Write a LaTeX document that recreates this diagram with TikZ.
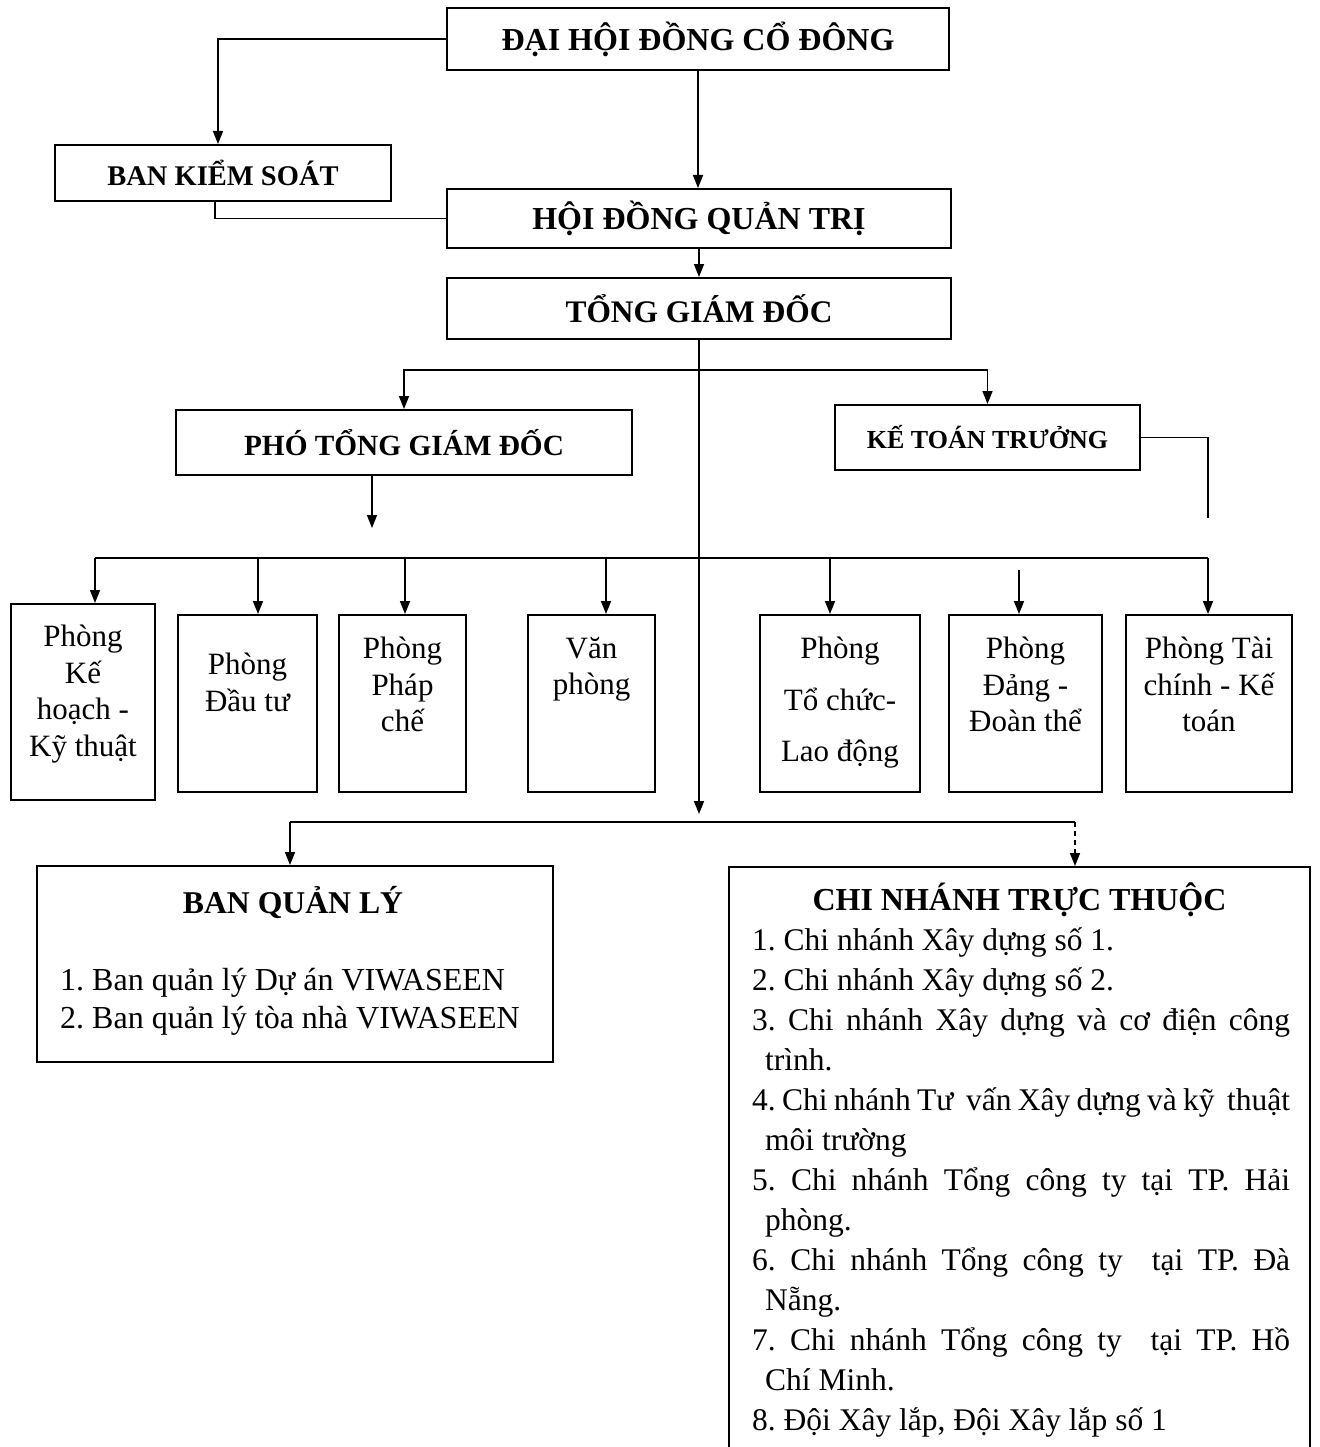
\documentclass[tikz,border=0pt]{standalone}
\usepackage{fontspec}
\setmainfont{Liberation Serif}
\usetikzlibrary{arrows.meta}
\newcommand\cnjust[1]{\makebox[538pt][s]{#1}}
\newcommand\cnind{\hspace*{13pt}}
\frenchspacing
\begin{document}
\begin{tikzpicture}[x=1pt,y=-1pt,
  box/.style={draw, line width=2pt, inner sep=0pt},
  ttl/.style={font=\bfseries\fontsize{32}{38}\selectfont},
  dept/.style={font=\fontsize{31}{36.5}\selectfont, align=center, inner sep=0pt, anchor=north},
  ln/.style={line width=1.6pt},
  arr/.style={line width=1.6pt, -{Triangle[length=13pt,width=10pt]}},
  darr/.style={arr, dash pattern=on 5pt off 4pt}]
\useasboundingbox (0,0) rectangle (1319,1447);
% top boxes
\node[box, minimum width=502pt, minimum height=62pt, ttl] (dhd) at (698,39) {ĐẠI HỘI ĐỒNG CỔ ĐÔNG};
\node[box, minimum width=336pt, minimum height=56pt, font=\bfseries\fontsize{28.5}{34}\selectfont] (bks) at (223,173) {BAN KIỂM SOÁT};
\node[box, minimum width=504pt, minimum height=59pt, ttl] (hdqt) at (699,218.5) {HỘI ĐỒNG QUẢN TRỊ};
\node[box, minimum width=504pt, minimum height=61pt, font=\bfseries\fontsize{31.4}{37}\selectfont] (tgd) at (699,308.5) {TỔNG GIÁM ĐỐC};
\node[box, minimum width=456pt, minimum height=65pt, font=\bfseries\fontsize{29.3}{35}\selectfont] (ptgd) at (404,442.5) {PHÓ TỔNG GIÁM ĐỐC};
\node[box, minimum width=305pt, minimum height=65pt, font=\bfseries\fontsize{26}{31}\selectfont] (ktt) at (987.5,437.5) {KẾ TOÁN TRƯỞNG};
% departments
\node[box, minimum width=144pt, minimum height=196pt] (pkh) at (83,702) {};
\node[dept] (pkht) at (83,625) {Phòng\\Kế\\hoạch -\\Kỹ thuật};
\node[box, minimum width=139pt, minimum height=177pt] (pdt) at (247.5,703.5) {};
\node[dept] (pdtt) at (247.5,653) {Phòng\\Đầu tư};
\node[box, minimum width=127pt, minimum height=177pt] (ppc) at (402.5,703.5) {};
\node[dept] (ppct) at (402.5,637) {Phòng\\Pháp\\chế};
\node[box, minimum width=127pt, minimum height=177pt] (vp) at (591.5,703.5) {};
\node[dept] (vpt) at (591.5,637) {Văn\\phòng};
\node[box, minimum width=160pt, minimum height=177pt] (ptc) at (840,703.5) {};
\node[dept] (ptct) at (840,637) {Phòng\\[15pt]Tổ chức-\\[15pt]Lao động};
\node[box, minimum width=153pt, minimum height=177pt] (pdd) at (1025.5,703.5) {};
\node[dept] (pddt) at (1025.5,637) {Phòng\\Đảng -\\Đoàn thể};
\node[box, minimum width=166pt, minimum height=177pt] (ptk) at (1209,703.5) {};
\node[dept] (ptkt) at (1209,637) {Phòng Tài\\chính - Kế\\toán};
% bottom boxes
\node[box, minimum width=516pt, minimum height=196pt] (bql) at (295,964) {};
\node[font=\bfseries\fontsize{31.7}{38}\selectfont] (bqlt) at (293,902) {BAN QUẢN LÝ};
\node[anchor=north west, inner sep=0pt, align=left, font=\fontsize{32}{38}\selectfont] (bqll) at (60,968) {1. Ban quản lý Dự án VIWASEEN\\2. Ban quản lý tòa nhà VIWASEEN};
\node[box, minimum width=581pt, minimum height=640pt, anchor=north] (cnt) at (1019.5,866) {};
\node[ttl] (cntt) at (1019.5,900) {CHI NHÁNH TRỰC THUỘC};
\node[anchor=north west, inner sep=0pt, align=left, font=\fontsize{31.5}{40}\selectfont] (cntl) at (752,927) {%
1. Chi nhánh Xây dựng số 1.\\
2. Chi nhánh Xây dựng số 2.\\
\cnjust{3. Chi nhánh Xây dựng và cơ điện công}\\
\cnind trình.\\
\cnjust{4. Chi nhánh Tư\ \ vấn Xây dựng và kỹ\ \ thuật}\\
\cnind môi trường\\
\cnjust{5. Chi nhánh Tổng công ty tại TP. Hải}\\
\cnind phòng.\\
\cnjust{6. Chi nhánh Tổng công ty\ \ tại TP. Đà}\\
\cnind Nẵng.\\
\cnjust{7. Chi nhánh Tổng công ty\ \ tại TP. Hồ}\\
\cnind Chí Minh.\\
8. Đội Xây lắp, Đội Xây lắp số 1};
% coordinates
\coordinate (bus1) at (699,370);
\coordinate (kttend) at (1208,518);
\coordinate (ptgdend) at (372,528);
\coordinate (b1) at (95,558);
\coordinate (b2) at (258,558);
\coordinate (b3) at (405,558);
\coordinate (b4) at (606,558);
\coordinate (b5) at (830,558);
\coordinate (b6s) at (1019,570);
\coordinate (b7) at (1208,558);
\coordinate (trunkend) at (699,814);
\coordinate (bbL) at (290,822);
\coordinate (bbR) at (1075,822);
% connectors
\draw[arr] (dhd.west) -| ([xshift=-5pt]bks.north);
\draw[arr] (dhd.south) -- (dhd.south |- hdqt.north);
\draw[ln] ([xshift=-8pt]bks.south) |- (hdqt.west);
\draw[arr] (hdqt.south) -- (tgd.north);
\draw[arr] (tgd.south) -- (trunkend);
\draw[arr] (bus1) -| (ptgd.north);
\draw[arr] (bus1) -| (ktt.north);
\draw[ln] (ktt.east) -| (kttend);
\draw[arr] (ptgd.south -| ptgdend) -- (ptgdend);
\draw[ln] (b1) -- (b7);
\draw[arr] (b1) -- (b1 |- pkh.north);
\draw[arr] (b2) -- (b2 |- pdt.north);
\draw[arr] (b3) -- (b3 |- ppc.north);
\draw[arr] (b4) -- (b4 |- vp.north);
\draw[arr] (b5) -- (b5 |- ptc.north);
\draw[arr] (b6s) -- (b6s |- pdd.north);
\draw[arr] (b7) -- (b7 |- ptk.north);
\draw[ln] (bbL) -- (bbR);
\draw[arr] (bbL) -- (bbL |- bql.north);
\draw[darr] (bbR) -- (bbR |- cnt.north);
\end{tikzpicture}
\end{document}
